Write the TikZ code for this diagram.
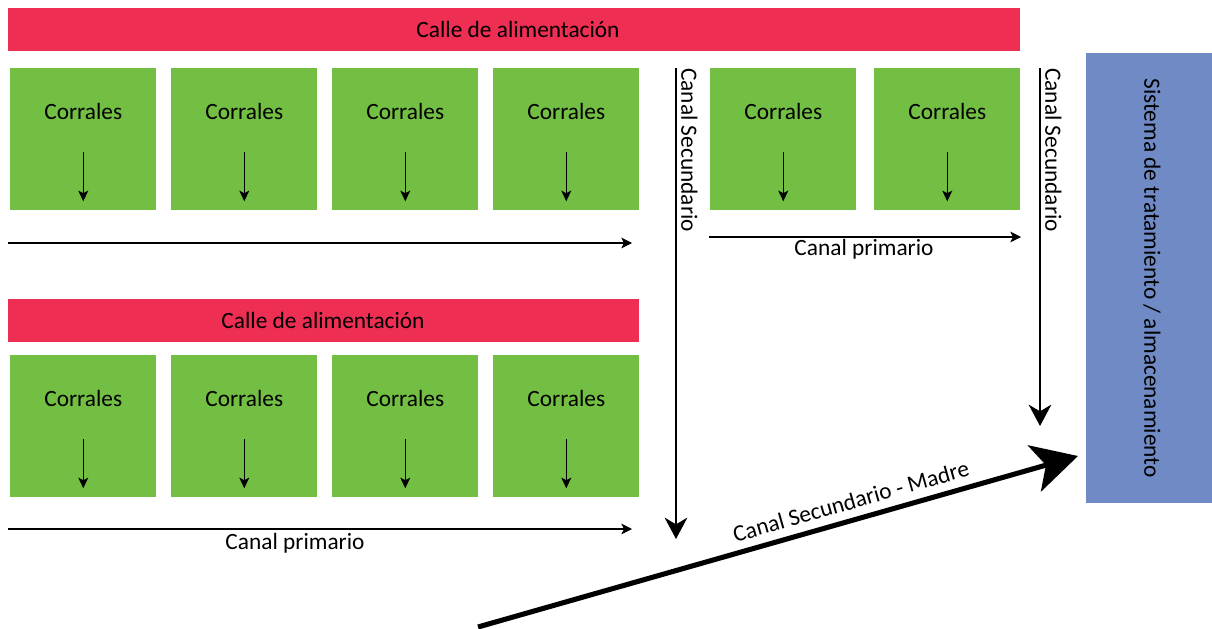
\documentclass[tikz,border=0pt]{standalone}
\usepackage{fontspec}
\setmainfont{Carlito}
\usetikzlibrary{arrows.meta}
\definecolor{calle}{RGB}{238,46,83}
\definecolor{corral}{RGB}{114,191,68}
\definecolor{sistema}{RGB}{112,138,198}
\begin{document}
\begin{tikzpicture}[x=0.75pt,y=-0.75pt,
  font=\fontsize{17.5}{20}\selectfont,
  callebox/.style={fill=calle,draw=none,anchor=north west,inner sep=0pt,minimum height=32.25pt},
  corralbox/.style={fill=corral,draw=none,anchor=north west,inner sep=0pt,minimum width=109.5pt,minimum height=106.5pt},
  lbl/.style={inner sep=0pt,text=black},
  small/.style={-{Stealth[length=8pt,width=7.5pt,inset=2pt]},line width=0.9pt},
  prim/.style={-{Stealth[length=8pt,width=8pt,inset=2pt]},line width=0.9pt},
  sec/.style={-{Stealth[length=16pt,width=17pt,inset=5pt]},line width=1.6pt},
  madre/.style={-{Stealth[length=34pt,width=36pt,inset=9pt]},line width=3.8pt}
]
\useasboundingbox (0,0) rectangle (1212,628);
\fill[white] (0,0) rectangle (1212,628);

% feed lanes
\node[callebox,minimum width=759pt] (calle1) at (8,8) {};
\node[lbl] (calle1t) at (518,29) {Calle de alimentación};
\node[callebox,minimum width=473.25pt] (calle2) at (8,299) {};
\node[lbl] (calle2t) at (323,320) {Calle de alimentación};

% pens, row 1
\foreach \i/\x in {1/10,2/171,3/332,4/493,5/710,6/874}{
  \node[corralbox] (a\i) at (\x,68) {};
  \node[lbl] (a\i t) at ([yshift=-32.25pt]a\i.north) {Corrales};
  \coordinate (a\i s) at ([yshift=-9.75pt]a\i.center);
  \coordinate (a\i e) at ([yshift=-46.5pt]a\i.center);
  \draw[small] (a\i s) -- (a\i e);
}
% pens, row 2
\foreach \i/\x in {1/10,2/171,3/332,4/493}{
  \node[corralbox] (b\i) at (\x,355) {};
  \node[lbl] (b\i t) at ([yshift=-32.25pt]b\i.north) {Corrales};
  \coordinate (b\i s) at ([yshift=-9.75pt]b\i.center);
  \coordinate (b\i e) at ([yshift=-46.5pt]b\i.center);
  \draw[small] (b\i s) -- (b\i e);
}

% primary channels
\coordinate (p1s) at (8,243); \coordinate (p1e) at (632,243);
\draw[prim] (p1s) -- (p1e);
\coordinate (p2s) at (709,237); \coordinate (p2e) at (1021,237);
\draw[prim] (p2s) -- (p2e);
\node[lbl] (p2t) at (864,249) {Canal primario};
\coordinate (p3s) at (8,529); \coordinate (p3e) at (632,529);
\draw[prim] (p3s) -- (p3e);
\node[lbl] (p3t) at (295,543) {Canal primario};

% secondary channels
\coordinate (s1s) at (676,68); \coordinate (s1e) at (676,539);
\draw[sec] (s1s) -- (s1e);
\node[lbl,rotate=-90,anchor=south west] (s1t) at (681,68) {Canal Secundario};
\coordinate (s2s) at (1040,68); \coordinate (s2e) at (1040,426);
\draw[sec] (s2s) -- (s2e);
\node[lbl,rotate=-90,anchor=south west] (s2t) at (1045,68) {Canal Secundario};

% treatment system
\node[fill=sistema,draw=none,anchor=north west,inner sep=0pt,minimum width=94.5pt,minimum height=337.5pt] (sis) at (1086,53) {};
\node[lbl,rotate=-90] (sist) at (1152,278) {Sistema de tratamiento / almacenamiento};

% mother channel
\coordinate (ms) at (478,627);
\coordinate (me) at (1078,456);
\draw[madre] (ms) -- (me) node[lbl,pos=0.63,sloped,above=6pt] (mt) {Canal Secundario - Madre};
\end{tikzpicture}
\end{document}
